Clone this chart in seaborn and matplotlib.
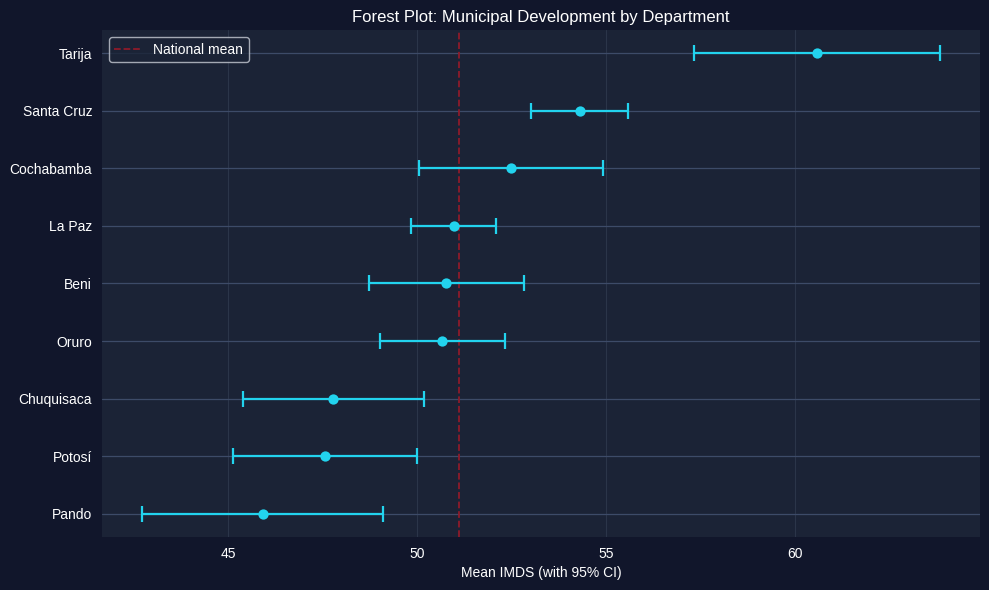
import matplotlib
matplotlib.use("Agg")
import matplotlib.pyplot as plt
import seaborn as sns
import pandas as pd

# Données
departments = ["Tarija", "Santa Cruz", "Cochabamba", "La Paz", "Beni",
               "Oruro", "Chuquisaca", "Potosí", "Pando"]
mean_imds = [60.58, 54.31, 52.49, 50.98, 50.77, 50.66, 47.78, 47.57, 45.93]
ci_low = [57.33, 53.02, 50.05, 49.84, 48.73, 49.02, 45.40, 45.13, 42.72]
ci_high = [63.84, 55.58, 54.92, 52.09, 52.83, 52.33, 50.19, 50.00, 49.10]
national_mean = 51.11

df = pd.DataFrame({"dept": departments, "mean": mean_imds,
                   "lo": ci_low, "hi": ci_high})

bg_fig = "#11162b"
bg_ax = "#1b2336"
cyan = "#22d3ee"

sns.set_theme(style="dark")
plt.rcParams["font.family"] = ["Liberation Sans", "DejaVu Sans"]

fig, ax = plt.subplots(figsize=(9.89, 5.9), dpi=100)
fig.patch.set_facecolor(bg_fig)
ax.set_facecolor(bg_ax)

y = list(range(len(df)))[::-1]
ax.errorbar(df["mean"], y,
            xerr=[df["mean"] - df["lo"], df["hi"] - df["mean"]],
            fmt="none", ecolor=cyan, elinewidth=1.6, capsize=6, capthick=1.6,
            zorder=3)
sns.scatterplot(x=df["mean"], y=y, color=cyan, s=55, edgecolor=cyan,
                linewidth=0, ax=ax, zorder=4)

ax.axvline(national_mean, color="#8e1b2a", linestyle="--", linewidth=1.3,
           label="National mean", zorder=2)

ax.set_yticks(y)
ax.set_yticklabels(df["dept"])

ax.grid(axis="x", color="#2b3549", linewidth=0.8)
ax.grid(axis="y", color="#3d4b68", linewidth=0.9)
ax.set_axisbelow(True)
for s in ax.spines.values():
    s.set_visible(False)

ax.tick_params(colors="white", labelsize=10, length=0, pad=7)
ax.set_xlabel("Mean IMDS (with 95% CI)", color="white", fontsize=10)
ax.set_ylabel("")
ax.set_title("Forest Plot: Municipal Development by Department",
             color="white", fontsize=12)

leg = ax.legend(loc="upper left", facecolor=bg_ax, edgecolor="#c8ccd4",
                fontsize=10)
for t in leg.get_texts():
    t.set_color("white")

plt.subplots_adjust(left=0.103, right=0.991, top=0.949, bottom=0.09)
plt.savefig("out.png", facecolor=bg_fig)
